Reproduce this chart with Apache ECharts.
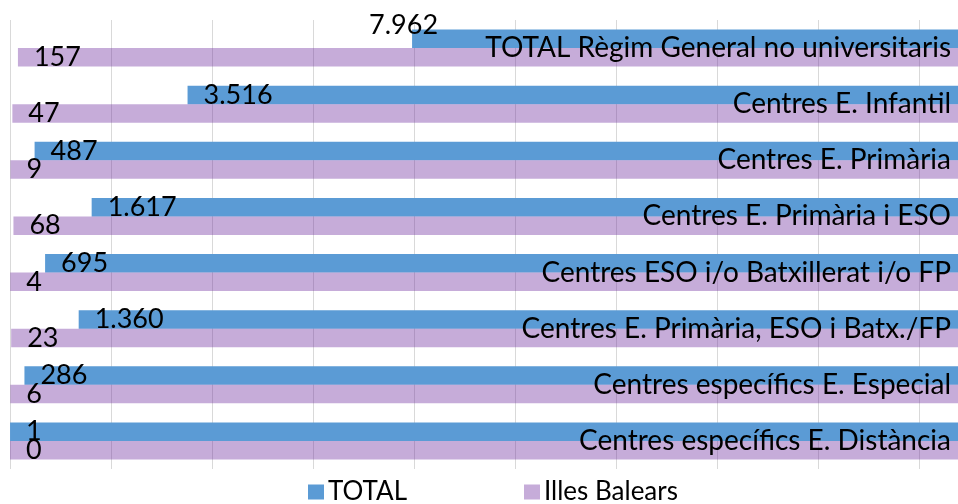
<!DOCTYPE html>
<html>
<head>
<meta charset="utf-8">
<script src="https://cdn.jsdelivr.net/npm/echarts@6/dist/echarts.min.js"></script>
<style>
  html, body { margin: 0; padding: 0; background: #fff; }
  #chart { width: 958px; height: 504px; }
</style>
</head>
<body>
<div id="chart"></div>
<script>
const categories = [
  'TOTAL Règim General no universitaris',
  'Centres E. Infantil',
  'Centres E. Primària',
  'Centres E. Primària i ESO',
  'Centres ESO i/o Batxillerat i/o FP',
  'Centres E. Primària, ESO i Batx./FP',
  'Centres específics E. Especial',
  'Centres específics E. Distància',
];
const totalValues = [7962, 3516, 487, 1617, 695, 1360, 286, 1];
const balearsValues = [157, 47, 9, 68, 4, 23, 6, 0];

const fontFamily = 'Lato';
const axisMax = 20000;

function fmt(v) {
  return String(v).replace(/\B(?=(\d{3})+(?!\d))/g, '.');
}

const chart = echarts.init(document.getElementById('chart'));

const valueLabel = {
  show: true,
  position: 'insideLeft',
  distance: 16,
  color: '#000',
  fontFamily: fontFamily,
  fontSize: 27,
  formatter: (p) => fmt(p.value),
};

// the first TOTAL label sits above its bar, centred on the bar's start
const totalData = totalValues.map((v, i) =>
  i === 0
    ? { value: v, label: { position: [-43, -4], align: 'left', verticalAlign: 'middle' } }
    : v
);

chart.setOption({
  animation: false,
  backgroundColor: '#fff',
  // plot runs past the right edge of the picture (cropped original)
  grid: { left: 10, width: 1010, top: 20, bottom: 35, containLabel: false, outerBoundsMode: 'none' },
  legend: {
    data: ['TOTAL', 'Illes Balears'],
    left: 308,
    top: 479,
    padding: 0,
    itemWidth: 16,
    itemHeight: 15,
    itemGap: 117,
    icon: 'rect',
    textStyle: { color: '#000', fontFamily: fontFamily, fontSize: 26, padding: [0, 0, 0, -1] },
  },
  xAxis: {
    type: 'value',
    min: 0,
    max: axisMax,
    interval: 2000,
    startValue: axisMax,
    axisLine: { show: false },
    axisTick: { show: false },
    axisLabel: { show: false },
    splitLine: { lineStyle: { color: '#D9D9D9', width: 1 } },
  },
  yAxis: {
    type: 'category',
    data: categories,
    inverse: true,
    position: 'right',
    offset: -62,
    z: 10,
    axisLine: { show: false },
    axisTick: { show: false },
    axisLabel: {
      inside: true,
      margin: 7,
      color: '#000',
      fontFamily: fontFamily,
      fontSize: 28,
    },
  },
  series: [
    {
      name: 'TOTAL',
      type: 'bar',
      data: totalData,
      barWidth: 18.5,
      barGap: '0%',
      itemStyle: { color: '#5B9BD5' },
      label: valueLabel,
    },
    {
      name: 'Illes Balears',
      type: 'bar',
      data: balearsValues,
      barWidth: 18.5,
      itemStyle: { color: 'rgba(112,48,160,0.4)' },
      label: valueLabel,
    },
  ],
});
</script>
</body>
</html>
